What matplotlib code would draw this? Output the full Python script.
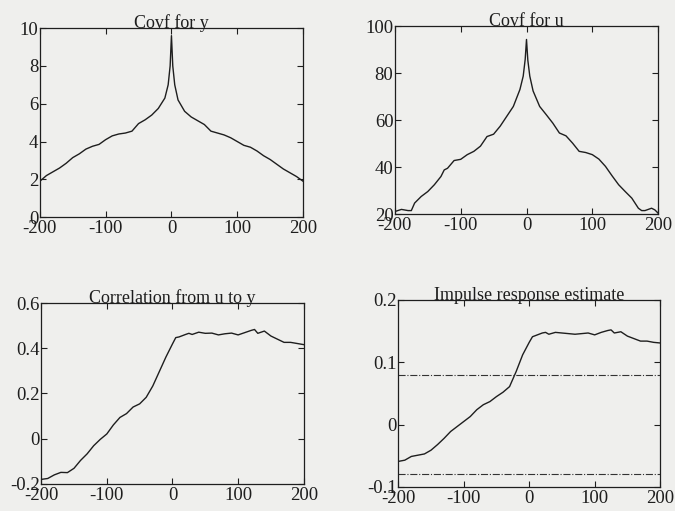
import matplotlib
matplotlib.use("Agg")
import matplotlib.pyplot as plt

# ---- data ----
lags_cov = [-200, -190, -180, -170, -160, -150, -140, -130, -120, -110, -100, -90, -80, -70,
            -60, -50, -40, -30, -20, -10, -5, -2, 0, 2, 5, 10, 20, 30, 40, 50, 60, 70,
            80, 90, 100, 110, 120, 130, 140, 150, 160, 170, 180, 190, 200]
covf_y = [1.9, 2.2, 2.4, 2.6, 2.85, 3.15, 3.35, 3.6, 3.75, 3.85, 4.1, 4.3, 4.4, 4.45,
          4.55, 4.95, 5.15, 5.4, 5.75, 6.3, 7.0, 8.0, 9.6, 8.0, 7.0, 6.2, 5.6, 5.3, 5.1, 4.9,
          4.55, 4.45, 4.35, 4.2, 4.0, 3.8, 3.7, 3.5, 3.25, 3.05, 2.8, 2.55, 2.35, 2.15, 1.9]

lags_u = [-200, -190, -180, -175, -170, -160, -150, -140, -130, -125, -120, -110, -100, -90,
          -80, -70, -60, -50, -40, -30, -20, -10, -5, -2, 0, 2, 5, 10, 20, 30, 40, 50, 60,
          70, 80, 90, 100, 110, 120, 130, 140, 150, 160, 170, 175, 180, 190, 195, 200]
covf_u = [21.1, 22.0, 21.5, 21.5, 24.7, 27.5, 29.6, 32.5, 36.0, 38.8, 39.5, 42.8, 43.3, 45.3,
          46.7, 48.9, 53.0, 54.0, 57.4, 61.6, 65.8, 73.0, 78.7, 85.8, 94.3, 85.5, 78.7, 72.4,
          65.8, 62.3, 58.7, 54.5, 53.3, 50.2, 46.7, 46.2, 45.3, 43.4, 40.3, 36.3, 32.5, 29.6,
          26.8, 22.5, 21.5, 21.5, 22.5, 21.8, 20.4]

lags_r = [-200, -190, -180, -170, -160, -150, -140, -130, -120, -110, -100, -90, -80, -70,
          -60, -50, -40, -30, -20, -10, 0, 5, 10, 20, 25, 30, 40, 50, 60, 70, 80, 90, 100,
          110, 120, 125, 130, 140, 150, 160, 170, 180, 190, 200]
corr_uy = [-0.180, -0.176, -0.160, -0.149, -0.150, -0.131, -0.096, -0.067, -0.031, -0.003,
           0.021, 0.061, 0.094, 0.111, 0.140, 0.154, 0.183, 0.233, 0.297, 0.361, 0.419,
           0.447, 0.450, 0.461, 0.466, 0.461, 0.471, 0.466, 0.467, 0.459, 0.464, 0.467,
           0.459, 0.469, 0.479, 0.483, 0.466, 0.476, 0.454, 0.440, 0.426, 0.426, 0.421, 0.416]
impulse = [-0.059, -0.057, -0.051, -0.049, -0.047, -0.041, -0.032, -0.022, -0.011, -0.003,
           0.005, 0.013, 0.024, 0.032, 0.037, 0.045, 0.052, 0.061, 0.085, 0.112, 0.132,
           0.141, 0.143, 0.147, 0.148, 0.145, 0.148, 0.147, 0.146, 0.145, 0.146, 0.147,
           0.144, 0.148, 0.151, 0.152, 0.147, 0.149, 0.142, 0.138, 0.134, 0.134, 0.132, 0.131]
conf_band = 0.079

bg = "#efefed"
ink = "#1e1e1e"
plt.rcParams["font.family"] = ["Liberation Serif", "DejaVu Serif"]
plt.rcParams["font.size"] = 13.5
plt.rcParams["axes.unicode_minus"] = False

fig = plt.figure(figsize=(6.75, 5.11), dpi=100, facecolor=bg)

def setup(ax, title, ylim, yticks, ylabels):
    ax.set_facecolor(bg)
    ax.set_xlim(-200, 200)
    ax.set_ylim(*ylim)
    ax.set_xticks([-200, -100, 0, 100, 200])
    ax.set_xticklabels(["-200", "-100", "0", "100", "200"])
    ax.set_yticks(yticks)
    ax.set_yticklabels(ylabels)
    ax.tick_params(direction="in", top=True, right=True, length=4, width=0.8,
                   pad=1, labelsize=13.5, colors=ink)
    ax.tick_params(axis="x", pad=2)
    for s in ax.spines.values():
        s.set_linewidth(0.9)
        s.set_color(ink)
    ax.set_title(title, fontsize=13, pad=0, color=ink)

ax1 = fig.add_axes([0.059, 0.575, 0.390, 0.370])
ax1.plot(lags_cov, covf_y, color=ink, lw=1.0)
setup(ax1, "Covf for y", (0, 10), [0, 2, 4, 6, 8, 10], ["0", "2", "4", "6", "8", "10"])

ax2 = fig.add_axes([0.585, 0.581, 0.390, 0.368])
ax2.plot(lags_u, covf_u, color=ink, lw=1.0)
setup(ax2, "Covf for u", (20, 100), [20, 40, 60, 80, 100], ["20", "40", "60", "80", "100"])

ax3 = fig.add_axes([0.061, 0.053, 0.389, 0.354])
ax3.plot(lags_r, corr_uy, color=ink, lw=1.0)
setup(ax3, "Correlation from u to y", (-0.2, 0.6), [-0.2, 0, 0.2, 0.4, 0.6],
      ["-0.2", "0", "0.2", "0.4", "0.6"])

ax4 = fig.add_axes([0.590, 0.047, 0.388, 0.366])
ax4.plot(lags_r, impulse, color=ink, lw=1.0)
ax4.axhline(conf_band, color="#333333", lw=0.8, ls="-.")
ax4.axhline(-conf_band, color="#333333", lw=0.8, ls="-.")
setup(ax4, "Impulse response estimate", (-0.1, 0.2), [-0.1, 0, 0.1, 0.2],
      ["-0.1", "0", "0.1", "0.2"])

fig.savefig("out.png", dpi=100, facecolor=bg)
